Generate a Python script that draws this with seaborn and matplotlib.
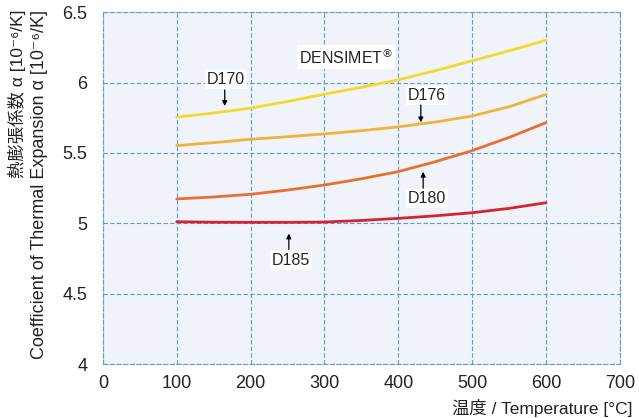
import matplotlib
matplotlib.use('Agg')
import matplotlib.pyplot as plt
import seaborn as sns
import pandas as pd

# values
temperature = [100, 150, 200, 250, 300, 350, 400, 450, 500, 550, 600]
d170 = [5.754, 5.783, 5.818, 5.865, 5.917, 5.966, 6.019, 6.084, 6.154, 6.225, 6.300]
d176 = [5.552, 5.573, 5.597, 5.615, 5.635, 5.658, 5.685, 5.719, 5.762, 5.828, 5.915]
d180 = [5.173, 5.187, 5.206, 5.236, 5.272, 5.316, 5.367, 5.437, 5.516, 5.610, 5.715]
d185 = [5.011, 5.008, 5.007, 5.007, 5.009, 5.020, 5.035, 5.053, 5.075, 5.106, 5.146]

grades = ['D170', 'D176', 'D180', 'D185']
colors = ['#f2da2a', '#efb33a', '#e8702f', '#d62330']
x_ticks = [0, 100, 200, 300, 400, 500, 600, 700]
y_ticks = [4, 4.5, 5, 5.5, 6, 6.5]
y_tick_labels = ['4', '4.5', '5', '5.5', '6', '6.5']

df = pd.DataFrame({'temp': temperature, 'D170': d170, 'D176': d176,
                   'D180': d180, 'D185': d185})
df = df.melt(id_vars='temp', var_name='grade', value_name='cte')

sns.set_style('white')
plt.rcParams['font.family'] = ['Liberation Sans', 'Noto Sans CJK JP', 'DejaVu Sans']

fig = plt.figure(figsize=(6.39, 4.18), dpi=100)
ax = fig.add_axes([0.161, 0.129, 0.809, 0.842])
ax.set_facecolor('#f0f4fa')

sns.lineplot(data=df, x='temp', y='cte', hue='grade',
             palette=dict(zip(grades, colors)), linewidth=2.0,
             legend=False, ax=ax)

grid_col = '#5d9ad6'
ax.set_xlim(0, 700)
ax.set_ylim(4, 6.5)
ax.set_xticks(x_ticks)
ax.set_yticks(y_ticks)
ax.set_yticklabels(y_tick_labels)
ax.grid(True, color=grid_col, linestyle=(0, (4, 2)), linewidth=0.8)
for sp in ax.spines.values():
    sp.set_color(grid_col)
    sp.set_linestyle((0, (4, 2)))
    sp.set_linewidth(0.8)
ax.tick_params(length=0, labelsize=13, labelcolor='#222222')
ax.tick_params(axis='y', pad=11)
ax.tick_params(axis='x', pad=8)
ax.set_xlabel('')
ax.set_ylabel('')

box = dict(facecolor='white', edgecolor='none', pad=1.5)
arrow = dict(arrowstyle='-|>', color='black', lw=0.9, mutation_scale=7,
             shrinkA=0, shrinkB=0)

ax.text(265, 6.18, r'DENSIMET$^{\circledR}$', fontsize=11.5, color='#222222',
        ha='left', va='center', bbox=box)

ax.text(166.5, 6.02, 'D170', fontsize=11.5, ha='center', va='center', bbox=box)
ax.annotate('', xy=(165, 5.833), xytext=(165, 5.947), arrowprops=arrow)

ax.text(438.7, 5.909, 'D176', fontsize=11.5, ha='center', va='center', bbox=box)
ax.annotate('', xy=(430.5, 5.717), xytext=(430.5, 5.84), arrowprops=arrow)

ax.text(438.7, 5.175, 'D180', fontsize=11.5, ha='center', va='center', bbox=box)
ax.annotate('', xy=(433.7, 5.366), xytext=(433.7, 5.25), arrowprops=arrow)

ax.text(254.5, 4.734, 'D185', fontsize=11.5, ha='center', va='center', bbox=box)
ax.annotate('', xy=(251.8, 4.927), xytext=(251.8, 4.814), arrowprops=arrow)

fig.text(17 / 639, 1 - 10 / 418, '熱膨張係数 α [10⁻⁶/K]', rotation=90,
         ha='center', va='top', fontsize=12.5, color='#222222')
fig.text(40 / 639, 1 - 10 / 418, 'Coefficient of Thermal Expansion α [10⁻⁶/K]',
         rotation=90, ha='center', va='top', fontsize=13, color='#222222')
fig.text(633 / 639, 1 - 408 / 418, '温度 / Temperature [°C]',
         ha='right', va='center', fontsize=12.5, color='#222222')

fig.savefig('out.png', dpi=100)
